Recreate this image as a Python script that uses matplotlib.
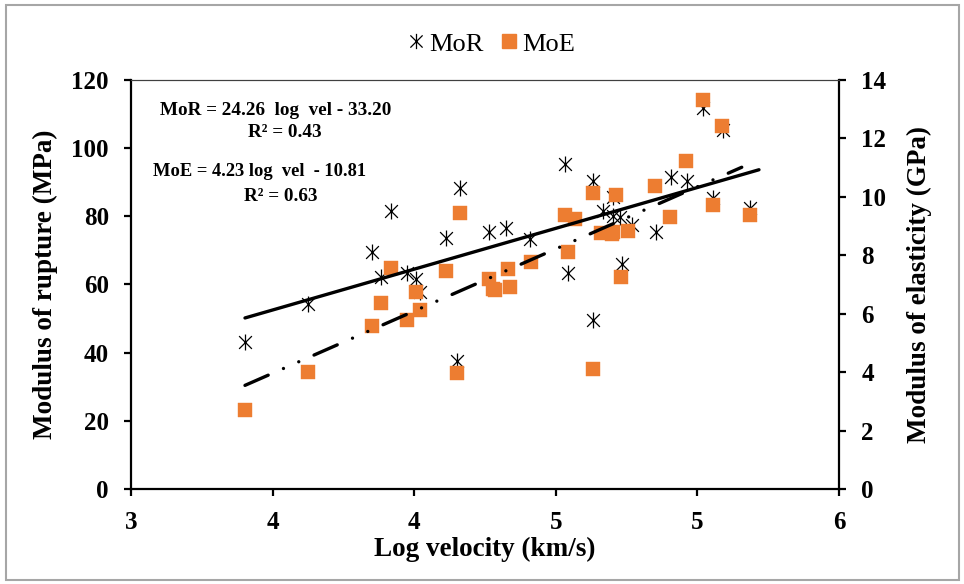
import matplotlib.pyplot as plt
import numpy as np
from matplotlib.lines import Line2D
from matplotlib.patches import Rectangle
from matplotlib.path import Path
from matplotlib.ticker import FormatStrFormatter

plt.rcParams["font.family"] = ["Liberation Serif", "DejaVu Serif"]

# MoR (MPa), left axis
mor_x = [3.483, 3.751, 4.020, 4.100, 4.059, 4.168, 4.208, 4.225, 4.333, 4.394,
         4.380, 4.518, 4.589, 4.691, 4.839, 4.850, 4.956, 4.959, 4.998, 5.044,
         5.044, 5.072, 5.121, 5.082, 5.225, 5.287, 5.357, 5.425, 5.467, 5.510,
         5.623]
mor_y = [43.2, 54.2, 69.6, 81.6, 62.3, 63.5, 61.5, 57.9, 73.6, 88.2,
         37.6, 75.5, 76.5, 73.3, 95.4, 63.5, 90.5, 49.6, 81.7, 85.8,
         80.1, 79.7, 77.5, 66.0, 75.3, 91.6, 90.5, 111.7, 85.3, 105.3,
         82.4]

# MoE (GPa), right axis
moe_x = [3.483, 3.751, 4.020, 4.059, 4.100, 4.168, 4.208, 4.225, 4.333, 4.394,
         4.380, 4.518, 4.535, 4.542, 4.596, 4.607, 4.694, 4.853, 4.839, 4.881,
         4.956, 4.956, 4.991, 5.037, 5.056, 5.044, 5.107, 5.078, 5.220, 5.283,
         5.353, 5.424, 5.466, 5.505, 5.623]
moe_y = [2.70, 3.99, 5.59, 6.38, 7.55, 5.78, 6.75, 6.13, 7.47, 9.44,
         3.98, 7.18, 6.84, 6.81, 7.53, 6.92, 7.76, 8.12, 9.38, 9.23,
         10.14, 4.10, 8.77, 8.73, 10.06, 8.81, 8.83, 7.25, 10.37, 9.32,
         11.24, 13.32, 9.72, 12.44, 9.38]

# x extent of the two trendlines as drawn
mor_trend_x = [3.483, 5.661]
moe_trend_x = [3.483, 5.588]

x_ticks = [3.0, 3.6, 4.2, 4.8, 5.4, 6.0]
mor_ticks = [0, 20, 40, 60, 80, 100, 120]
moe_ticks = [0, 2, 4, 6, 8, 10, 12, 14]

orange = "#ED7D31"

# Excel style "star" marker: an X plus a vertical stroke
star = Path(
    [(-0.8, -0.8), (0.8, 0.8), (-0.8, 0.8), (0.8, -0.8), (0, -1), (0, 1)],
    [Path.MOVETO, Path.LINETO, Path.MOVETO, Path.LINETO, Path.MOVETO, Path.LINETO],
)

fig = plt.figure(figsize=(9.64, 5.84), dpi=100)
fig.patches.append(
    Rectangle((0.006, 0.007), 0.989, 0.985, transform=fig.transFigure,
              fill=False, edgecolor="#A6A6A6", linewidth=1.5)
)

ax = fig.add_axes([0.1359, 0.1627, 0.7344, 0.7003])
ax2 = ax.twinx()

ax.plot(mor_x, mor_y, linestyle="none", marker=star, markersize=11.5,
        markeredgecolor="black", markerfacecolor="none", markeredgewidth=0.9)
ax2.plot(moe_x, moe_y, linestyle="none", marker="s", markersize=10.5,
         markerfacecolor=orange, markeredgecolor=orange, markeredgewidth=0.3)

# linear trendlines (least squares on the plotted points)
mor_fit = np.polyfit(mor_x, mor_y, 1)
moe_fit = np.polyfit(moe_x, moe_y, 1)
ax2.plot(mor_trend_x, np.polyval(mor_fit, mor_trend_x), color="black",
         linewidth=2.4, solid_capstyle="round", transform=ax.transData)
ax2.plot(moe_trend_x, np.polyval(moe_fit, moe_trend_x), color="black",
         linewidth=2.4, dash_capstyle="round",
         linestyle=(0, (7.6, 5, 0.01, 5, 0.01, 5)))

ax.set_xlim(3, 6)
ax.set_ylim(0, 120)
ax2.set_ylim(0, 14)
ax.set_xticks(x_ticks)
ax.xaxis.set_major_formatter(FormatStrFormatter("%.0f"))
ax.set_yticks(mor_ticks)
ax2.set_yticks(moe_ticks)

for a in (ax, ax2):
    for side in ("left", "right", "bottom"):
        a.spines[side].set_linewidth(1.6)
    a.spines["top"].set_linewidth(0.8)
    a.spines["top"].set_color("#404040")
ax.spines["right"].set_visible(False)
ax2.spines["left"].set_visible(False)
ax2.spines["bottom"].set_visible(False)

ax.tick_params(axis="both", direction="out", length=5, width=1.6, labelsize=18)
ax.tick_params(axis="y", pad=11)
ax.tick_params(axis="x", pad=11)
ax2.tick_params(axis="y", direction="out", length=5, width=1.6,
                labelsize=18, pad=11)
for lbl in ax.get_xticklabels() + ax.get_yticklabels() + ax2.get_yticklabels():
    lbl.set_fontweight("bold")

ax.set_xlabel("Log velocity (km/s)", fontsize=19.5, fontweight="bold", va="center")
ax.set_ylabel("Modulus of rupture (MPa)", fontsize=19.5, fontweight="bold", va="center")
ax2.set_ylabel("Modulus of elasticity (GPa)", fontsize=19.5, fontweight="bold", va="center")
ax.xaxis.set_label_coords(0.5, -0.147)
ax.yaxis.set_label_coords(-0.1215, 0.5)
ax2.yaxis.set_label_coords(1.114, 0.5)

eq_style = dict(fontweight="bold", ha="center", va="center")
fig.text(0.2863, 0.8116, "MoR = 24.26  log  vel - 33.20", fontsize=13.8, **eq_style)
fig.text(0.2956, 0.7723, "R² = 0.43", fontsize=13.8, **eq_style)
fig.text(0.2692, 0.7055, "MoE = 4.23 log  vel  - 10.81", fontsize=13.3, **eq_style)
fig.text(0.2915, 0.6627, "R² = 0.63", fontsize=13.8, **eq_style)

handles = [
    Line2D([], [], linestyle="none", marker=star, markersize=11,
           markeredgecolor="black", markerfacecolor="none", markeredgewidth=0.9),
    Line2D([], [], linestyle="none", marker="s", markersize=10.5,
           markerfacecolor=orange, markeredgecolor=orange),
]
fig.legend(handles, ["MoR", "MoE"], loc="center", bbox_to_anchor=(0.509, 0.9247),
           ncol=2, frameon=False, fontsize=19, handlelength=0.7,
           handletextpad=0.15, columnspacing=0.6)

fig.savefig("out.png", dpi=100)
